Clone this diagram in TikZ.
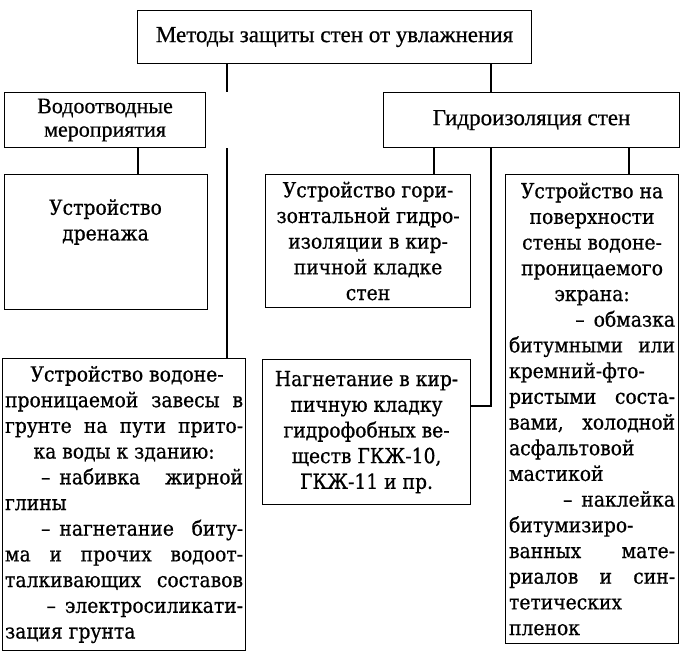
\documentclass[tikz,border=0pt]{standalone}
\usepackage{fontspec}
\setmainfont{DejaVu Serif}[FakeStretch=0.9,FakeBold=0.6]
\newfontfamily\headfont{Liberation Serif}[FakeBold=0.6]
\newcommand\stackrows[2]{\vbox{\baselineskip=25.7pt\lineskiplimit=0pt\halign{\hbox to #1{##}\cr#2\crcr}}}
\newcommand\mkC[1]{\hfil#1\hfil}
\newcommand\mkL[1]{#1\hfil}
\newcommand\mkR[1]{\hfil#1}
\newcommand\gap{\hfill\ }
\newcommand\dsh{–\hskip9pt}
\begin{document}
\begin{tikzpicture}[x=1pt,y=-1pt,
  box/.style={draw, line width=1.1pt, inner sep=0pt, anchor=north west},
  ln/.style={line width=1.1pt},
  body/.style={font=\fontsize{20.8}{25.7}\selectfont, align=center},
  head/.style={font=\headfont\fontsize{23}{23.5}\selectfont, align=center}]
\useasboundingbox (0,0) rectangle (682,654);
% top level
\node[box, head, minimum width=394pt, minimum height=53pt] (top) at (137,10)
  {Методы защиты стен от увлажнения};
\node[box, head, font=\headfont\fontsize{22}{23.5}\selectfont, minimum width=201pt, minimum height=55pt] (water) at (4,92)
  {Водоотводные\\мероприятия};
\node[box, head, minimum width=296pt, minimum height=55pt] (hydro) at (383,92)
  {Гидроизоляция стен};
% third row
\node[box, minimum width=203pt, minimum height=135pt] (drain) at (4,174) {};
\node[body] (drainT) at (105.5,222) {Устройство\\дренажа};
\node[box, body, minimum width=205pt, minimum height=133pt] (horiz) at (265,174)
  {Устройство гори-\\зонтальной гидро-\\изоляции в кир-\\пичной кладке\\стен};
\node[box, body, minimum width=173pt, minimum height=469pt] (screen) at (505,174)
  {\stackrows{166pt}{%
   \mkC{Устройство на}\cr
   \mkC{поверхности}\cr
   \mkC{стены водоне-}\cr
   \mkC{проницаемого}\cr
   \mkC{экрана:}\cr
   \mkR{\dsh обмазка}\cr
   битумными\gap или\cr
   \mkL{кремний-фто-}\cr
   ристыми\gap соста-\cr
   вами,\gap холодной\cr
   \mkL{асфальтовой}\cr
   \mkL{мастикой}\cr
   \mkR{\dsh наклейка}\cr
   \mkL{битумизиро-}\cr
   ванных\gap мате-\cr
   риалов\gap и\gap син-\cr
   \mkL{тетических}\cr
   \mkL{пленок}}};
\node[box, body, minimum width=208pt, minimum height=145pt] (inject) at (262,359)
  {Нагнетание в кир-\\пичную кладку\\гидрофобных ве-\\ществ ГКЖ-10,\\ГКЖ-11 и пр.};
\node[box, body, minimum width=243pt, minimum height=292pt] (curtain) at (2,358)
  {\stackrows{238pt}{%
   \hfil\hskip6pt Устройство водоне-\hfil\cr
   проницаемой\gap завесы\gap в\cr
   грунте\gap на\gap пути\gap прито-\cr
   \mkC{ка воды к зданию:}\cr
   \hskip36pt \dsh набивка\gap жирной\cr
   \mkL{глины}\cr
   \hskip36pt \dsh нагнетание\gap биту-\cr
   ма\gap и\gap прочих\gap водоот-\cr
   талкивающих\gap составов\cr
   \mkR{\dsh электросиликати-}\cr
   \mkL{зация грунта}}};
% connector positions
\coordinate (xa) at (227,0);
\coordinate (xb) at (491,0);
\coordinate (xc) at (138,0);
\coordinate (xd) at (434,0);
\coordinate (xe) at (629,0);
\coordinate (jn) at (491,406);
\draw[ln] (top.south -| xa) -- (water.north -| xa);
\draw[ln] (top.south -| xb) -- (hydro.north -| xb);
\draw[ln] (water.south -| xc) -- (drain.north -| xc);
\draw[ln] (water.south -| xa) -- (curtain.north -| xa);
\draw[ln] (hydro.south -| xd) -- (horiz.north -| xd);
\draw[ln] (hydro.south -| xe) -- (screen.north -| xe);
\draw[ln] (hydro.south -| xb) -- (jn) -- (inject.east |- jn);
\end{tikzpicture}
\end{document}
